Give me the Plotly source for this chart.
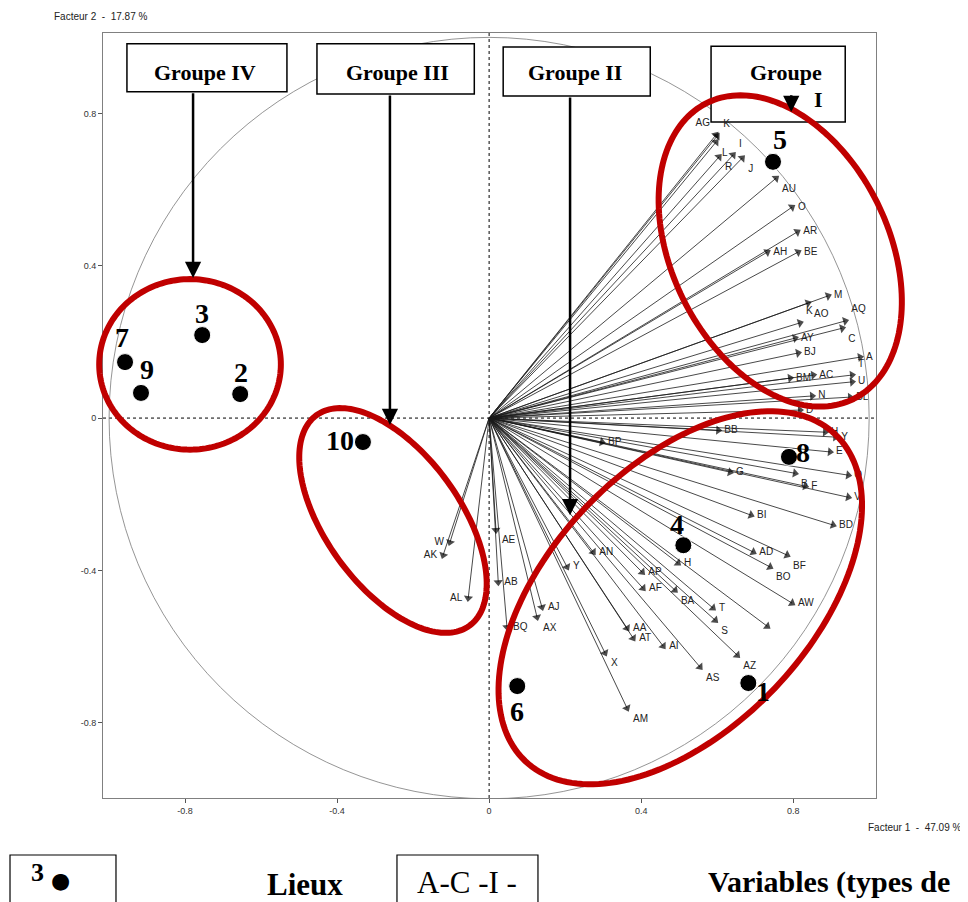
import numpy as np
import plotly.graph_objects as go

# ---------------- data ----------------
var_names = ["AG", "K", "L", "R", "I", "J", "AU", "O", "AR", "AH", "BE", "M", "AO", "K", "AQ",
             "AY", "C", "BJ", "A", "BM", "AC", "T", "U", "N", "BL", "D", "BB", "H", "Y", "BP",
             "E", "G", "B", "Q", "F", "V", "BI", "BD", "AE", "AB", "AJ", "AX", "BQ", "Y", "AN",
             "H", "AD", "BF", "BO", "AP", "AF", "BA", "T", "S", "AW", "", "AA", "AT", "AI", "X",
             "AS", "AZ", "AM", "W", "AK", "AL"]
var_x = [0.597, 0.600, 0.597, 0.605, 0.642, 0.666, 0.755, 0.797, 0.811, 0.732, 0.813, 0.892, 0.839, 0.818, 0.937,
         0.805, 0.929, 0.813, 0.976, 0.792, 0.853, 0.955, 0.955, 0.850, 0.950, 0.818, 0.603, 0.884, 0.911, 0.297,
         0.897, 0.634, 0.805, 0.945, 0.832, 0.945, 0.689, 0.905, 0.018, 0.024, 0.139, 0.126, 0.047, 0.205, 0.274,
         0.497, 0.695, 0.784, 0.739, 0.403, 0.405, 0.489, 0.589, 0.595, 0.797, 0.732, 0.363, 0.379, 0.458, 0.305,
         0.555, 0.653, 0.363, -0.103, -0.121, -0.055]
var_y = [0.744, 0.741, 0.725, 0.686, 0.691, 0.683, 0.630, 0.554, 0.489, 0.436, 0.436, 0.321, 0.302, 0.250, 0.255,
         0.210, 0.236, 0.171, 0.160, 0.105, 0.113, 0.113, 0.095, 0.058, 0.055, 0.021, -0.032, -0.037, -0.050, -0.063,
         -0.089, -0.142, -0.145, -0.150, -0.179, -0.208, -0.255, -0.281, -0.294, -0.431, -0.497, -0.523, -0.549, -0.391, -0.352,
         -0.381, -0.352, -0.360, -0.391, -0.405, -0.447, -0.452, -0.499, -0.531, -0.486, -0.547, -0.552, -0.578, -0.599, -0.617,
         -0.654, -0.623, -0.762, -0.326, -0.360, -0.473]

site_names = ["1", "2", "3", "4", "5", "6", "7", "8", "9", "10"]
site_x = [0.682, -0.655, -0.755, 0.511, 0.747, 0.074, -0.958, 0.789, -0.916, -0.332]
site_y = [-0.696, 0.063, 0.218, -0.334, 0.673, -0.704, 0.147, -0.102, 0.066, -0.063]

tick_vals = [-0.8, -0.4, 0, 0.4, 0.8]
tick_text = ["-0.8", "-0.4", "0", "0.4", "0.8"]

group_names = ["Groupe IV", "Groupe III", "Groupe II", "Groupe"]

# ---------------- styles ----------------
XR = [-1.016, 1.018]
YR = [-0.998, 1.0115]

lab_pos = {"AG": "top left", "K": "top right", "L": "bottom right", "R": "bottom right",
           "J": "bottom right", "AU": "bottom right", "AO": "bottom right", "AQ": "top right",
           "C": "bottom right", "B": "bottom right", "AE": "bottom right", "AX": "bottom right",
           "BF": "bottom right", "BO": "bottom right", "BA": "bottom right", "S": "bottom right",
           "X": "bottom right", "AS": "bottom right", "AZ": "bottom right", "AM": "bottom right",
           "W": "middle left", "AK": "middle left", "AL": "middle left", "I": "top right"}
var_textpos = [lab_pos.get(n, "middle right") for n in var_names]
var_textpos[21] = "top right"
site_shift = [(15, -8), (1, 22), (0, 22), (-6, 21), (7, 22), (0, -25), (-3, 25), (14, 4), (6, 23), (-23, 2)]

RED = "rgb(192,0,0)"
SERIF = "Liberation Serif"
SANS = "Liberation Sans"

fig = go.Figure()

# variable arrows (segments from origin, arrowheads oriented along segment)
ax_x, ax_y, msize = [], [], []
for x, y in zip(var_x, var_y):
    ax_x += [0, x, None]
    ax_y += [0, y, None]
    msize += [0, 8, 0]
fig.add_trace(go.Scatter(
    x=ax_x, y=ax_y, mode="lines+markers",
    line=dict(color="#1a1a1a", width=0.8),
    marker=dict(symbol="triangle-up", size=msize, color="black", angleref="previous", line=dict(width=0)),
    hoverinfo="skip", showlegend=False))

# variable labels (invisible markers only widen the gap between tip and label)
fig.add_trace(go.Scatter(
    x=var_x, y=var_y, mode="markers+text", text=var_names, textposition=var_textpos,
    marker=dict(size=8, opacity=0), cliponaxis=False,
    textfont=dict(family=SANS, size=10, color="#222"), hoverinfo="skip", showlegend=False))

# sites
fig.add_trace(go.Scatter(
    x=site_x, y=site_y, mode="markers",
    marker=dict(size=17, color="black", line=dict(color="white", width=1)),
    hoverinfo="skip", showlegend=False))

shapes = [
    dict(type="circle", xref="x", yref="y", x0=-1, y0=-1, x1=1, y1=1,
         line=dict(color="#7a7a7a", width=0.8), layer="below"),
    dict(type="line", xref="x", yref="paper", x0=0, x1=0, y0=0, y1=1,
         line=dict(color="black", width=1, dash="dot"), layer="below"),
    dict(type="line", xref="paper", yref="y", x0=0, x1=1, y0=0, y1=0,
         line=dict(color="black", width=1, dash="dot"), layer="below"),
]
# group boxes
boxes = [(-0.953, 0.857, -0.532, 0.983), (-0.453, 0.851, -0.039, 0.983),
         (0.037, 0.846, 0.424, 0.975), (0.584, 0.778, 0.937, 0.977)]
for x0, y0, x1, y1 in boxes:
    shapes.append(dict(type="rect", xref="x", yref="y", x0=x0, y0=y0, x1=x1, y1=y1,
                       fillcolor="white", line=dict(color="black", width=1.5), layer="below"))

# red group ellipses (highlight outlines), drawn in paper coords so they can overflow the frame
ellipses = [  # cx, cy, a, b, angle(deg) in data units
    (0.766, 0.439, 0.434, 0.285, -63.6),
    (0.503, -0.472, 0.592, 0.344, 46.4),
    (-0.253, -0.269, 0.342, 0.176, -53.9),
    (-0.787, 0.141, 0.239, 0.224, 0.0),
]
t = np.linspace(0, 2 * np.pi, 180, endpoint=False)
for cx, cy, a, b, ang in ellipses:
    p = np.radians(ang)
    ex = cx + a * np.cos(t) * np.cos(p) - b * np.sin(t) * np.sin(p)
    ey = cy + a * np.cos(t) * np.sin(p) + b * np.sin(t) * np.cos(p)
    px = (ex - XR[0]) / (XR[1] - XR[0])
    py = (ey - YR[0]) / (YR[1] - YR[0])
    path = "M" + " L".join(f"{u:.5f},{v:.5f}" for u, v in zip(px, py)) + " Z"
    shapes.append(dict(type="path", xref="paper", yref="paper", path=path,
                       line=dict(color=RED, width=6), layer="above"))

# bottom legend boxes (paper coords)
shapes.append(dict(type="rect", xref="paper", yref="paper", x0=-0.1203, x1=0.0168, y0=-0.16, y1=-0.0745,
                   line=dict(color="black", width=1.2), fillcolor="white"))
shapes.append(dict(type="rect", xref="paper", yref="paper", x0=0.3803, x1=0.5627, y0=-0.16, y1=-0.0745,
                   line=dict(color="black", width=1.2), fillcolor="white"))

annotations = []
for name, sx, sy, (dx, dy) in zip(site_names, site_x, site_y, site_shift):
    annotations.append(dict(x=sx, y=sy, xref="x", yref="y", text="<b>" + name + "</b>", showarrow=False,
                            xshift=dx, yshift=dy, font=dict(family=SERIF, size=28, color="black")))

group_text_pos = [(-0.747, 0.909), (-0.242, 0.909), (0.226, 0.909), (0.782, 0.909)]
for name, (gx, gy) in zip(group_names, group_text_pos):
    annotations.append(dict(x=gx, y=gy, xref="x", yref="y", text="<b>" + name + "</b>",
                            showarrow=False, font=dict(family=SERIF, size=22, color="black")))
annotations.append(dict(x=0.868, y=0.836, xref="x", yref="y", text="<b>I</b>", showarrow=False,
                        font=dict(family=SERIF, size=22, color="black")))
group_arrows = [(-0.779, 0.857, -0.779, 0.368), (-0.261, 0.851, -0.261, -0.018),
                (0.213, 0.846, 0.213, -0.255), (0.795, 0.852, 0.795, 0.804)]
for x0, y0, x1, y1 in group_arrows:
    annotations.append(dict(x=x1, y=y1, ax=x0, ay=y0, xref="x", yref="y", axref="x", ayref="y",
                            text="", showarrow=True, arrowhead=2, arrowsize=1.3, arrowwidth=2.5,
                            arrowcolor="black", standoff=0, startstandoff=0))

annotations += [
    dict(x=-0.066, y=1.021, xref="paper", yref="paper", xanchor="left", yanchor="middle",
         text="Facteur 2  -  17.87 %", showarrow=False, font=dict(family=SANS, size=10, color="#222")),
    dict(x=1.1125, y=-0.039, xref="paper", yref="paper", xanchor="right", yanchor="middle",
         text="Facteur 1  -  47.09 %", showarrow=False, font=dict(family=SANS, size=10, color="#222")),
    dict(x=-0.085, y=-0.098, xref="paper", yref="paper", xanchor="center", yanchor="middle",
         text="<b>3</b>", showarrow=False, font=dict(family=SERIF, size=26, color="black")),
    dict(x=-0.0556, y=-0.108, xref="paper", yref="paper", xanchor="center", yanchor="middle",
         text="●", showarrow=False, font=dict(family="DejaVu Sans", size=22, color="black")),
    dict(x=0.261, y=-0.113, xref="paper", yref="paper", xanchor="center", yanchor="middle",
         text="<b>Lieux</b>", showarrow=False, font=dict(family=SERIF, size=31, color="black")),
    dict(x=0.471, y=-0.110, xref="paper", yref="paper", xanchor="center", yanchor="middle",
         text="A-C -I -", showarrow=False, font=dict(family=SERIF, size=31, color="black")),
    dict(x=0.780, y=-0.110, xref="paper", yref="paper", xanchor="left", yanchor="middle",
         text="<b>Variables (types de</b>", showarrow=False, font=dict(family=SERIF, size=30, color="black")),
]

axis_common = dict(showgrid=False, zeroline=False, showline=True, mirror=True, linecolor="#808080",
                   linewidth=1, ticks="outside", ticklen=4, tickcolor="#555", tickvals=tick_vals,
                   ticktext=tick_text, tickfont=dict(family=SANS, size=9, color="#333"))

fig.update_layout(
    width=960, height=894, margin=dict(l=95, r=92, t=25, b=104),
    paper_bgcolor="white", plot_bgcolor="white", showlegend=False,
    xaxis=dict(range=XR, **axis_common),
    yaxis=dict(range=YR, **axis_common),
    shapes=shapes, annotations=annotations,
)

fig.write_html("out.html")
